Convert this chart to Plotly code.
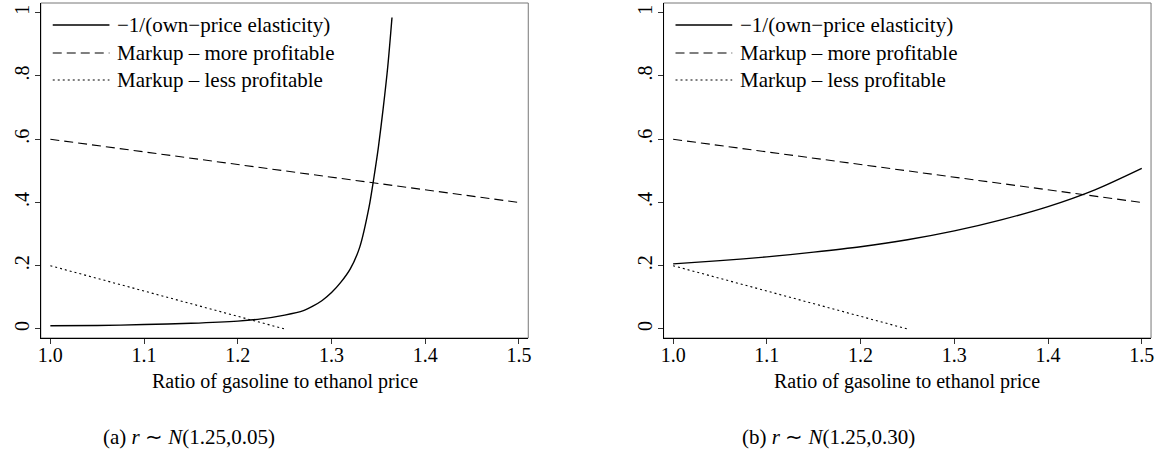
import plotly.graph_objects as go

# ---------------- data ----------------
x_elast_a = [1.00, 1.05, 1.10, 1.15, 1.20, 1.225, 1.25, 1.27, 1.28, 1.29, 1.30,
             1.31, 1.32, 1.33, 1.34, 1.345, 1.35, 1.355, 1.36, 1.3645]
y_elast_a = [0.010, 0.011, 0.014, 0.018, 0.025, 0.032, 0.044, 0.058, 0.072, 0.090, 0.115,
             0.148, 0.190, 0.258, 0.385, 0.475, 0.575, 0.695, 0.830, 0.985]

x_elast_b = [1.00, 1.05, 1.10, 1.15, 1.20, 1.25, 1.30, 1.35, 1.40, 1.45, 1.50]
y_elast_b = [0.206, 0.216, 0.228, 0.243, 0.260, 0.282, 0.310, 0.345, 0.387, 0.440, 0.508]

x_more = [1.0, 1.5]
y_more = [0.6, 0.4]
x_less = [1.0, 1.25]
y_less = [0.2, 0.0]

x_ticks = [1.0, 1.1, 1.2, 1.3, 1.4, 1.5]
x_ticklabels = ["1.0", "1.1", "1.2", "1.3", "1.4", "1.5"]
y_ticks = [0, 0.2, 0.4, 0.6, 0.8, 1.0]
y_ticklabels = ["0", ".2", ".4", ".6", ".8", "1"]

legend_labels = ["\u22121/(own\u2212price elasticity)",
                 "Markup \u2013 more profitable",
                 "Markup \u2013 less profitable"]
x_title = "Ratio of gasoline to ethanol price"
captions = ["(a) <i>r</i> \u223c <i>N</i>(1.25,0.05)",
            "(b) <i>r</i> \u223c <i>N</i>(1.25,0.30)"]

# ---------------- layout constants ----------------
W, H = 1162, 463
FONT = "Liberation Serif"
panels = [(38, 528), (664, 1154)]   # frame pixel extents
top_px, bot_px = 3, 338
dashes = [None, "9px,5px", "2px,3px"]
widths = [1.4, 1.1, 1.1]

fig = go.Figure()

series = [
    [(x_elast_a, y_elast_a), (x_more, y_more), (x_less, y_less)],
    [(x_elast_b, y_elast_b), (x_more, y_more), (x_less, y_less)],
]

for p, ser in enumerate(series):
    xa = "x" if p == 0 else "x2"
    ya = "y" if p == 0 else "y2"
    for k, (xs, ys) in enumerate(ser):
        line = dict(color="black", width=widths[k])
        if dashes[k]:
            line["dash"] = dashes[k]
        if k == 0:
            line["shape"] = "spline"
            line["smoothing"] = 0.8
        fig.add_trace(go.Scatter(x=xs, y=ys, mode="lines", line=line,
                                 xaxis=xa, yaxis=ya, showlegend=False,
                                 hoverinfo="skip"))

def px_x(v):
    return v / W

def px_y(v):
    return 1 - v / H

ydom = [px_y(bot_px), px_y(top_px)]
axis_common = dict(
    showgrid=False, zeroline=False, showline=True, linecolor="black", linewidth=1,
    ticks="outside", ticklen=5, tickwidth=1, tickcolor="#333",
    tickfont=dict(family=FONT, size=20, color="black"),
)
xr = [0.9898, 1.5099]
yr = [-0.0285, 1.0307]
layout = dict(
    width=W, height=H, margin=dict(l=0, r=0, t=0, b=0),
    paper_bgcolor="white", plot_bgcolor="white",
    font=dict(family=FONT, color="black"),
    showlegend=False,
)
for p, (l, r) in enumerate(panels):
    sfx = "" if p == 0 else "2"
    layout["xaxis" + sfx] = dict(axis_common, domain=[px_x(l), px_x(r)], range=xr,
                                 tickvals=x_ticks, ticktext=x_ticklabels,
                                 ticklabelstandoff=-6,
                                 anchor="y" + sfx)
    layout["yaxis" + sfx] = dict(axis_common, domain=ydom, range=yr,
                                 tickvals=y_ticks, ticktext=y_ticklabels,
                                 ticklabelstandoff=-2,
                                 tickangle=-90, anchor="x" + sfx)
fig.update_layout(**layout)

shapes = []
annotations = []
leg_rows = [25, 53, 80]
for p, (l, r) in enumerate(panels):
    # gray frame on top/right
    shapes.append(dict(type="rect", xref="paper", yref="paper",
                       x0=px_x(l), x1=px_x(r), y0=ydom[0], y1=ydom[1],
                       line=dict(color="#777", width=1), layer="below"))
    # manual legend
    for k, lab in enumerate(legend_labels):
        ln = dict(color="black", width=widths[k])
        if dashes[k]:
            ln["dash"] = dashes[k]
        shapes.append(dict(type="line", xref="paper", yref="paper",
                           x0=px_x(l + 12), x1=px_x(l + 69),
                           y0=px_y(leg_rows[k]), y1=px_y(leg_rows[k]), line=ln))
        annotations.append(dict(text=lab, xref="paper", yref="paper",
                                x=px_x(l + 75), y=px_y(leg_rows[k]),
                                xanchor="left", yanchor="middle", showarrow=False,
                                font=dict(family=FONT, size=21, color="black")))
    # axis title
    annotations.append(dict(text=x_title, xref="paper", yref="paper",
                            x=px_x((l + r) / 2), y=px_y(381),
                            xanchor="center", yanchor="middle", showarrow=False,
                            font=dict(family=FONT, size=20, color="black")))

cap_x = [187, 830]
for p, c in enumerate(captions):
    annotations.append(dict(text=c, xref="paper", yref="paper",
                            x=px_x(cap_x[p]), y=px_y(437),
                            xanchor="center", yanchor="middle", showarrow=False,
                            font=dict(family=FONT, size=21, color="black")))

fig.update_layout(shapes=shapes, annotations=annotations)
fig.write_html("out.html", config={"displayModeBar": False},
               post_script="document.body.style.margin='0';document.body.style.overflow='hidden';")
